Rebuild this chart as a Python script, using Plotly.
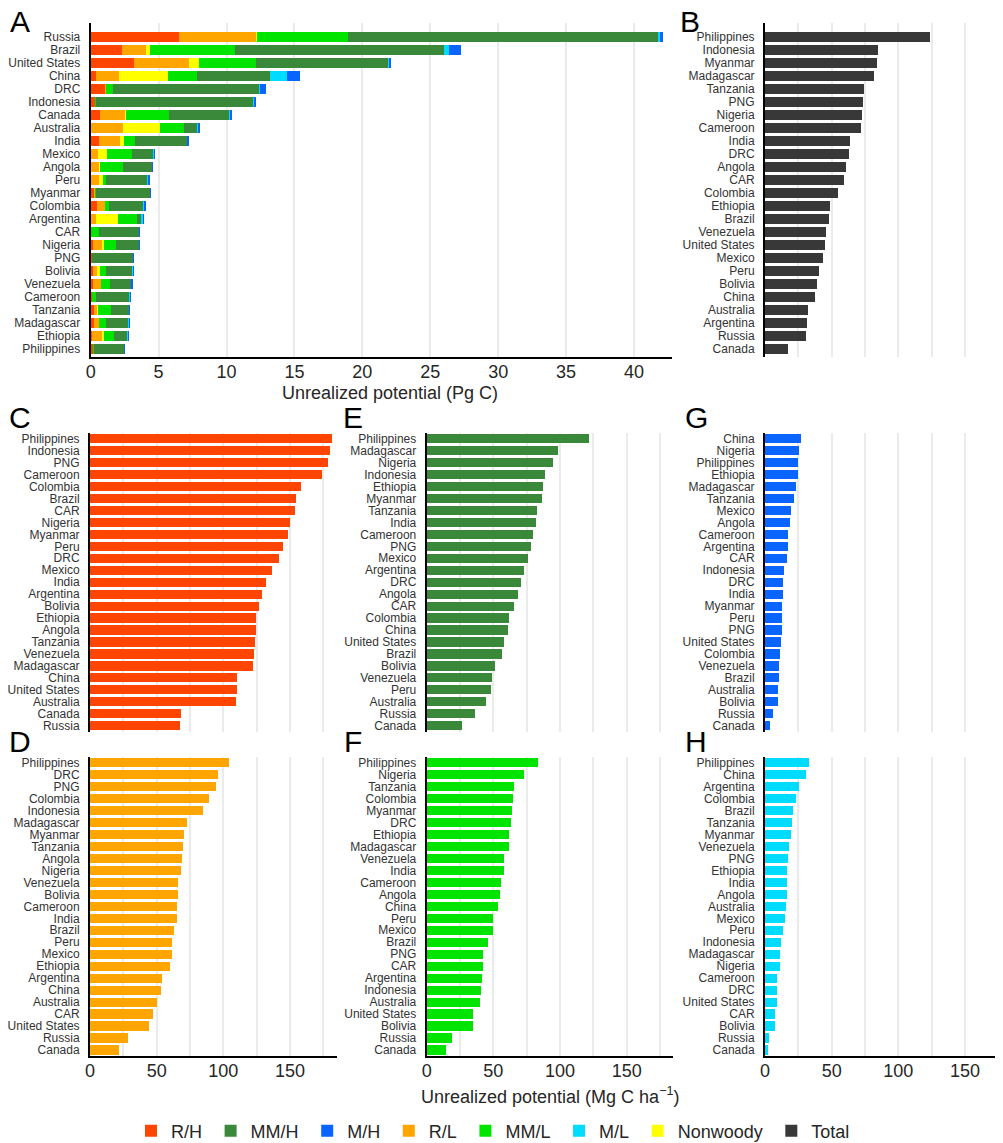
import plotly.graph_objects as go

# ---------------- data ----------------
countries_A = ["Russia", "Brazil", "United States", "China", "DRC", "Indonesia", "Canada",
               "Australia", "India", "Mexico", "Angola", "Peru", "Myanmar", "Colombia",
               "Argentina", "CAR", "Nigeria", "PNG", "Bolivia", "Venezuela", "Cameroon",
               "Tanzania", "Madagascar", "Ethiopia", "Philippines"]
# Panel A components (Pg C)
rh_A  = [6.50, 2.33, 3.21, 0.39, 1.10, 0.32, 0.69, 0.05, 0.61, 0.05, 0.03, 0.05, 0.25, 0.49,
         0.02, 0.02, 0.15, 0.10, 0.17, 0.17, 0.10, 0.25, 0.22, 0.10, 0.17]
rl_A  = [5.66, 1.74, 4.00, 1.69, 0.02, 0.00, 1.83, 2.33, 1.57, 0.46, 0.63, 0.56, 0.07, 0.56,
         0.37, 0.02, 0.73, 0.00, 0.30, 0.59, 0.02, 0.26, 0.39, 0.73, 0.02]
nw_A  = [0.09, 0.29, 0.76, 3.58, 0.00, 0.00, 0.10, 2.72, 0.30, 0.69, 0.02, 0.32, 0.00, 0.02,
         1.60, 0.00, 0.10, 0.00, 0.19, 0.01, 0.00, 0.02, 0.02, 0.17, 0.00]
mml_A = [6.69, 6.28, 4.19, 2.13, 0.49, 0.07, 3.14, 1.79, 0.76, 1.84, 1.72, 0.20, 0.07, 0.28,
         1.42, 0.60, 0.86, 0.02, 0.44, 0.68, 0.27, 0.97, 0.50, 0.72, 0.03]
mmh_A = [22.87, 15.34, 9.72, 5.40, 10.81, 11.61, 4.44, 0.98, 3.87, 1.59, 2.13, 3.06, 3.97, 2.52,
         0.34, 2.94, 1.71, 3.00, 1.99, 1.52, 2.48, 1.32, 1.66, 1.00, 2.23]
ml_A  = [0.10, 0.42, 0.07, 1.27, 0.05, 0.02, 0.07, 0.07, 0.03, 0.03, 0.02, 0.02, 0.01, 0.05,
         0.08, 0.01, 0.01, 0.00, 0.02, 0.02, 0.02, 0.02, 0.02, 0.02, 0.01]
mh_A  = [0.20, 0.88, 0.13, 0.96, 0.44, 0.08, 0.10, 0.02, 0.03, 0.02, 0.01, 0.08, 0.02, 0.15,
         0.02, 0.01, 0.01, 0.02, 0.03, 0.10, 0.03, 0.03, 0.06, 0.03, 0.01]

# Panel B: Total (Mg C / ha)
countries_B = ["Philippines", "Indonesia", "Myanmar", "Madagascar", "Tanzania", "PNG", "Nigeria",
               "Cameroon", "India", "DRC", "Angola", "CAR", "Colombia", "Ethiopia", "Brazil",
               "Venezuela", "United States", "Mexico", "Peru", "Bolivia", "China", "Australia",
               "Argentina", "Russia", "Canada"]
total_B = [123.8, 84.5, 84.0, 82.0, 74.3, 73.3, 72.5, 72.3, 63.8, 63.0, 61.0, 59.0, 54.5, 49.0,
           48.0, 46.0, 45.0, 43.3, 40.5, 39.3, 37.8, 32.0, 31.8, 30.8, 17.5]

# Panel C: R/H
countries_C = ["Philippines", "Indonesia", "PNG", "Cameroon", "Colombia", "Brazil", "CAR", "Nigeria",
               "Myanmar", "Peru", "DRC", "Mexico", "India", "Argentina", "Bolivia", "Ethiopia",
               "Angola", "Tanzania", "Venezuela", "Madagascar", "China", "United States",
               "Australia", "Canada", "Russia"]
rh_C = [181.5, 180.3, 178.8, 173.8, 158.3, 154.5, 153.5, 149.8, 148.5, 145.0, 141.5, 136.5, 132.3,
        129.0, 127.0, 124.8, 124.3, 124.0, 122.8, 122.3, 110.5, 110.0, 109.8, 68.3, 67.5]

# Panel D: R/L
countries_D = ["Philippines", "DRC", "PNG", "Colombia", "Indonesia", "Madagascar", "Myanmar",
               "Tanzania", "Angola", "Nigeria", "Venezuela", "Bolivia", "Cameroon", "India",
               "Brazil", "Peru", "Mexico", "Ethiopia", "Argentina", "China", "Australia", "CAR",
               "United States", "Russia", "Canada"]
rl_D = [104.0, 95.8, 94.8, 89.0, 84.5, 72.8, 70.3, 69.5, 69.3, 68.3, 65.8, 65.7, 65.6, 65.0,
        63.0, 61.8, 61.5, 60.3, 53.8, 53.0, 50.0, 47.0, 44.0, 28.8, 22.0]

# Panel E: MM/H
countries_E = ["Philippines", "Madagascar", "Nigeria", "Indonesia", "Ethiopia", "Myanmar", "Tanzania",
               "India", "Cameroon", "PNG", "Mexico", "Argentina", "DRC", "Angola", "CAR", "Colombia",
               "China", "United States", "Brazil", "Bolivia", "Venezuela", "Peru", "Australia",
               "Russia", "Canada"]
mmh_E = [121.8, 98.8, 95.0, 89.0, 87.0, 86.8, 83.0, 82.3, 79.8, 78.3, 75.8, 73.0, 70.8, 68.5,
         65.5, 61.5, 61.0, 58.3, 56.3, 51.5, 48.8, 48.5, 44.5, 36.3, 26.3]

# Panel F: MM/L
countries_F = ["Philippines", "Nigeria", "Tanzania", "Colombia", "Myanmar", "DRC", "Ethiopia",
               "Madagascar", "Venezuela", "India", "Cameroon", "Angola", "China", "Peru", "Mexico",
               "Brazil", "PNG", "CAR", "Argentina", "Indonesia", "Australia", "United States",
               "Bolivia", "Russia", "Canada"]
mml_F = [83.8, 73.0, 65.5, 64.8, 64.3, 63.3, 61.8, 61.5, 58.3, 58.2, 56.0, 55.0, 53.3, 50.0, 49.9,
         46.3, 42.5, 42.0, 41.3, 40.8, 39.8, 34.8, 34.7, 18.8, 14.3]

# Panel G: M/H
countries_G = ["China", "Nigeria", "Philippines", "Ethiopia", "Madagascar", "Tanzania", "Mexico",
               "Angola", "Cameroon", "Argentina", "CAR", "Indonesia", "DRC", "India", "Myanmar",
               "Peru", "PNG", "United States", "Colombia", "Venezuela", "Brazil", "Australia",
               "Bolivia", "Russia", "Canada"]
mh_G = [27.3, 25.3, 25.0, 24.8, 23.5, 21.8, 19.5, 19.0, 17.5, 17.0, 16.3, 14.3, 13.8, 13.5, 12.8,
        12.5, 12.4, 11.8, 11.3, 10.3, 10.2, 10.0, 9.8, 5.8, 3.8]

# Panel H: M/L
countries_H = ["Philippines", "China", "Argentina", "Colombia", "Brazil", "Tanzania", "Myanmar",
               "Venezuela", "PNG", "Ethiopia", "India", "Angola", "Australia", "Mexico", "Peru",
               "Indonesia", "Madagascar", "Nigeria", "Cameroon", "DRC", "United States", "CAR",
               "Bolivia", "Russia", "Canada"]
ml_H = [33.0, 30.8, 25.3, 23.0, 21.0, 20.3, 19.5, 17.8, 17.0, 16.8, 16.5, 16.4, 15.8, 15.0, 13.3,
        11.8, 11.0, 10.9, 9.3, 9.0, 8.8, 7.8, 7.3, 2.8, 2.0]

# ---------------- style ----------------
OFF = 8                      # default page margin of the html body
W, H = 1003 - OFF, 1143 - OFF
C_RH, C_RL, C_NW = "#FF4500", "#FFA500", "#FFFF00"
C_MML, C_MMH = "#00E400", "#3A883A"
C_ML, C_MH, C_TOT = "#00DCFF", "#0A64FF", "#383838"
FONT = "Liberation Sans, Arial, sans-serif"
TXT = "#262626"
GRID = "#EBEBEB"
PAD = "\u2009"


def xp(px):
    return (px - OFF) / W


def yp(py):
    return 1 - (py - OFF) / H


def xd(a, b):
    return [xp(a), xp(b)]


def yd(top, bottom):
    return [yp(bottom), yp(top)]


fig = go.Figure()

# Panel A stacked
stack = [("R/H", rh_A, C_RH, 1), ("R/L", rl_A, C_RL, 4), ("Nonwoody", nw_A, C_NW, 7),
         ("MM/L", mml_A, C_MML, 5), ("MM/H", mmh_A, C_MMH, 2), ("M/L", ml_A, C_ML, 6),
         ("M/H", mh_A, C_MH, 3)]
for name, vals, col, rank in stack:
    fig.add_trace(go.Bar(orientation="h", x=vals, y=countries_A, name=name + PAD,
                         marker_color=col, marker_line_width=0, xaxis="x", yaxis="y",
                         legendrank=rank))

single = [("Total", countries_B, total_B, C_TOT, "2", True),
          ("R/H", countries_C, rh_C, C_RH, "3", False),
          ("R/L", countries_D, rl_D, C_RL, "4", False),
          ("MM/H", countries_E, mmh_E, C_MMH, "5", False),
          ("MM/L", countries_F, mml_F, C_MML, "6", False),
          ("M/H", countries_G, mh_G, C_MH, "7", False),
          ("M/L", countries_H, ml_H, C_ML, "8", False)]
for name, cats, vals, col, k, sl in single:
    fig.add_trace(go.Bar(orientation="h", x=vals, y=cats, name=name, marker_color=col,
                         marker_line_width=0, xaxis="x" + k, yaxis="y" + k,
                         showlegend=sl, legendrank=8))

layout = dict(width=W, height=H, margin=dict(l=0, r=0, t=0, b=0, autoexpand=False),
              paper_bgcolor="white", plot_bgcolor="white",
              barmode="stack", bargap=0.23,
              font=dict(family=FONT, color=TXT),
              legend=dict(orientation="h", x=xp(131), xanchor="left", y=yp(1131),
                          yanchor="middle", font=dict(size=18, color=TXT),
                          bgcolor="rgba(0,0,0,0)", traceorder="normal"))


def yax(dom, cats, rng, anchor):
    return dict(domain=dom, anchor=anchor, type="category", categoryorder="array",
                categoryarray=cats, tickmode="array", tickvals=cats, ticktext=cats,
                range=rng, showline=True, linecolor="black", linewidth=2,
                ticks="", showgrid=False, zeroline=False, tickfont=dict(size=12, color="#333"),
                ticklabelstandoff=6, automargin=False, fixedrange=True)


def xax(dom, rng, anchor, dtick, labels, line, minor=None):
    d = dict(domain=dom, anchor=anchor, range=rng, dtick=dtick, tick0=0, showgrid=True,
             gridcolor=GRID, gridwidth=1.5, zeroline=False, showticklabels=labels,
             showline=line, linecolor="black", linewidth=2, ticks="",
             tickfont=dict(size=18, color=TXT), ticklabelstandoff=-3,
             automargin=False, fixedrange=True)
    if minor:
        d["minor"] = dict(dtick=minor, tick0=0, showgrid=True, gridcolor=GRID, gridwidth=1.5)
    return d


yA = yd(23.3, 357)
yTop = yd(432.7, 731.7)
yBot = yd(756.7, 1056)
xA = xd(90.7, 672)
xB = xd(765, 1002.3)
xCD = xd(90, 336.7)
xEF = xd(426.7, 673.3)
xGH = xd(765, 1002.3)

layout["xaxis"] = xax(xA, [0, 42.8], "y", 5, True, True)
layout["yaxis"] = yax(yA, countries_A, [24.6, -1.05], "x")
layout["xaxis2"] = xax(xB, [0, 178], "y2", 25, False, False)
layout["yaxis2"] = yax(yA, countries_B, [24.6, -1.05], "x2")
layout["xaxis3"] = xax(xCD, [0, 185], "y3", 50, False, False, 25)
layout["yaxis3"] = yax(yTop, countries_C, [24.5, -0.5], "x3")
layout["xaxis4"] = xax(xCD, [0, 185], "y4", 50, True, True, 25)
layout["yaxis4"] = yax(yBot, countries_D, [24.5, -0.5], "x4")
layout["xaxis5"] = xax(xEF, [0, 185], "y5", 50, False, False, 25)
layout["yaxis5"] = yax(yTop, countries_E, [24.5, -0.5], "x5")
layout["xaxis6"] = xax(xEF, [0, 185], "y6", 50, True, True, 25)
layout["yaxis6"] = yax(yBot, countries_F, [24.5, -0.5], "x6")
layout["xaxis7"] = xax(xGH, [0, 178], "y7", 50, False, False, 25)
layout["yaxis7"] = yax(yTop, countries_G, [24.5, -0.5], "x7")
layout["xaxis8"] = xax(xGH, [0, 178], "y8", 50, True, True, 25)
layout["yaxis8"] = yax(yBot, countries_H, [24.5, -0.5], "x8")

annots = []
for letter, px, py in [("A", 20, 21), ("B", 690, 21), ("C", 20, 418), ("E", 353, 418),
                       ("G", 696, 418), ("D", 20, 741), ("F", 353, 741), ("H", 696, 741)]:
    annots.append(dict(text=letter, x=xp(px), y=yp(py), xref="paper", yref="paper",
                       showarrow=False, xanchor="center", yanchor="middle",
                       font=dict(size=30, color="black", family=FONT)))
annots.append(dict(text="Unrealized potential (Pg C)", x=xp(390), y=yp(393),
                   xref="paper", yref="paper", showarrow=False, xanchor="center",
                   yanchor="middle", font=dict(size=18, color=TXT)))
annots.append(dict(text="Unrealized potential (Mg C ha<sup>\u22121</sup>)", x=xp(550),
                   y=yp(1095), xref="paper", yref="paper", showarrow=False,
                   xanchor="center", yanchor="middle", font=dict(size=18, color=TXT)))
layout["annotations"] = annots

fig.update_layout(**layout)
fig.write_html("out.html")
